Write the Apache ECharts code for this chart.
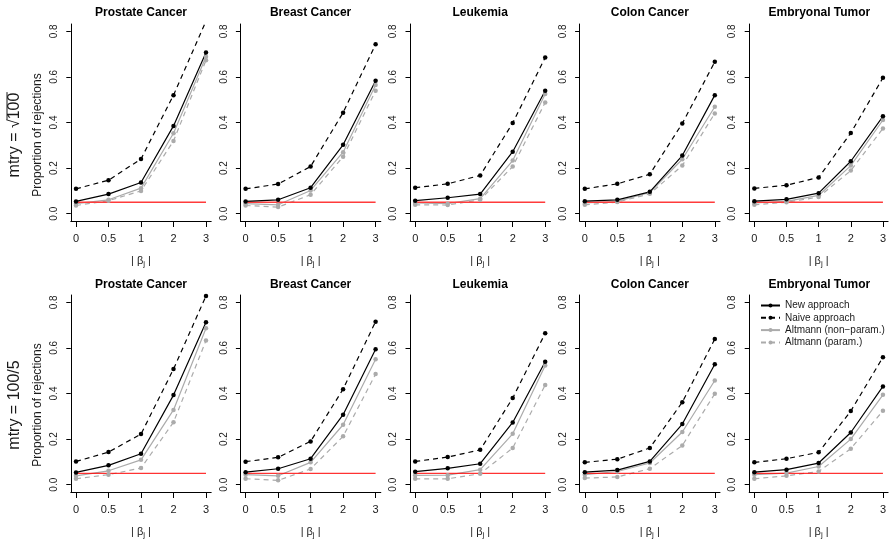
<!DOCTYPE html>
<html>
<head>
<meta charset="utf-8">
<script src="https://cdn.jsdelivr.net/npm/echarts@6/dist/echarts.min.js"></script>
<style>
  html, body { margin: 0; padding: 0; background: #ffffff; }
  #chart { width: 889px; height: 543px; }
</style>
</head>
<body>
<div id="chart"></div>
<script>
// ---- data -------------------------------------------------------------
const datasets = ['Prostate Cancer', 'Breast Cancer', 'Leukemia', 'Colon Cancer', 'Embryonal Tumor'];
const betaLabels = ['0', '0.5', '1', '2', '3'];
const yTicks = [0, 0.2, 0.4, 0.6, 0.8];
const yTickLabels = ['0.0', '0.2', '0.4', '0.6', '0.8'];
const nominalLevel = 0.05;
const methods = ['New approach', 'Naive approach', 'Altmann (non\u2212param.)', 'Altmann (param.)'];
const rowLabels = ['mtry = \u221A100', 'mtry = 100/5'];
const yTitle = 'Proportion of rejections';

// mtry = sqrt(100): one row per data set, values at |beta_j| = 0, 0.5, 1, 2, 3
const newSqrt = [
  [0.054, 0.086, 0.137, 0.385, 0.707],
  [0.054, 0.061, 0.114, 0.302, 0.583],
  [0.057, 0.070, 0.086, 0.272, 0.539],
  [0.055, 0.061, 0.096, 0.255, 0.520],
  [0.055, 0.063, 0.090, 0.230, 0.427]
];
const naiveSqrt = [
  [0.109, 0.147, 0.240, 0.520, 0.845],
  [0.109, 0.130, 0.207, 0.443, 0.743],
  [0.114, 0.131, 0.168, 0.398, 0.685],
  [0.109, 0.131, 0.173, 0.396, 0.666],
  [0.111, 0.125, 0.159, 0.354, 0.596]
];
const altNonParSqrt = [
  [0.044, 0.061, 0.112, 0.353, 0.688],
  [0.044, 0.039, 0.102, 0.270, 0.564],
  [0.047, 0.044, 0.066, 0.233, 0.525],
  [0.047, 0.054, 0.093, 0.239, 0.469],
  [0.047, 0.054, 0.080, 0.211, 0.411]
];
const altParSqrt = [
  [0.036, 0.057, 0.100, 0.319, 0.673],
  [0.036, 0.029, 0.083, 0.250, 0.539],
  [0.039, 0.038, 0.061, 0.207, 0.488],
  [0.039, 0.051, 0.087, 0.211, 0.440],
  [0.039, 0.050, 0.073, 0.189, 0.374]
];

// mtry = 100/5
const newFifth = [
  [0.054, 0.085, 0.136, 0.393, 0.712],
  [0.055, 0.070, 0.114, 0.307, 0.594],
  [0.057, 0.072, 0.092, 0.273, 0.539],
  [0.055, 0.064, 0.102, 0.266, 0.528],
  [0.055, 0.066, 0.095, 0.229, 0.431]
];
const naiveFifth = [
  [0.102, 0.143, 0.222, 0.507, 0.828],
  [0.101, 0.120, 0.190, 0.419, 0.715],
  [0.102, 0.121, 0.153, 0.380, 0.664],
  [0.098, 0.112, 0.161, 0.362, 0.639],
  [0.098, 0.114, 0.142, 0.323, 0.559]
];
const altNonParFifth = [
  [0.039, 0.061, 0.109, 0.328, 0.686],
  [0.044, 0.039, 0.098, 0.263, 0.550],
  [0.041, 0.042, 0.066, 0.223, 0.523],
  [0.044, 0.058, 0.095, 0.231, 0.457],
  [0.044, 0.051, 0.080, 0.200, 0.394]
];
const altParFifth = [
  [0.026, 0.044, 0.073, 0.274, 0.632],
  [0.026, 0.019, 0.069, 0.212, 0.485],
  [0.026, 0.026, 0.048, 0.161, 0.437],
  [0.029, 0.034, 0.070, 0.172, 0.399],
  [0.026, 0.039, 0.058, 0.158, 0.324]
];

// ---- layout -----------------------------------------------------------
const FONT = '"Liberation Sans", Arial, Helvetica, sans-serif';
const TEXT = '#1a1a1a';
const PANEL_LEFT = 70.8, PANEL_STEP = 169.6, PANEL_W = 140.4;
const ROW_TOP = 24, ROW_STEP = 271, PANEL_H = 197;
const Y_MIN = -0.032, Y_MAX = 0.832;   // [0, 0.8] padded by 4% on each side
const X_MIN = 0.84, X_MAX = 5.16;      // category slots 1..5 padded by 4%
const xSlots = betaLabels.map((_, i) => i + 1);

const rows = [
  [newSqrt, naiveSqrt, altNonParSqrt, altParSqrt],
  [newFifth, naiveFifth, altNonParFifth, altParFifth]
];

const methodStyle = [
  { color: '#000000', type: 'solid', width: 1.2 },
  { color: '#000000', type: [5, 4], width: 1.2 },
  { color: '#ababab', type: 'solid', width: 1.2 },
  { color: '#ababab', type: [5, 4], width: 1.2 }
];

const grids = [], xAxes = [], yAxes = [], series = [], titles = [], graphics = [];

rows.forEach((rowData, r) => {
  datasets.forEach((name, c) => {
    const k = grids.length;
    const left = PANEL_LEFT + PANEL_STEP * c;
    const top = ROW_TOP + ROW_STEP * r;
    grids.push({ left: left, top: top, width: PANEL_W, height: PANEL_H });

    xAxes.push({
      type: 'value', gridIndex: k, min: X_MIN, max: X_MAX,
      splitLine: { show: false },
      axisLine: { show: true, onZero: false, lineStyle: { color: '#000', width: 1 } },
      axisTick: { show: true, customValues: xSlots, length: 6, lineStyle: { color: '#000' } },
      axisLabel: {
        customValues: xSlots, margin: 12, fontSize: 11, fontFamily: FONT, color: TEXT,
        formatter: v => betaLabels[Math.round(v) - 1]
      },
      name: '{n|| \u03B2}{s|j}{n| |}',
      nameLocation: 'middle', nameGap: 32.5,
      nameTextStyle: {
        fontFamily: FONT, color: TEXT,
        rich: {
          n: { fontSize: 11, fontFamily: FONT, color: TEXT },
          s: { fontSize: 8, fontFamily: FONT, color: TEXT, padding: [6, 0, 0, 0] }
        }
      }
    });

    yAxes.push({
      type: 'value', gridIndex: k, min: Y_MIN, max: Y_MAX,
      splitLine: { show: false },
      axisLine: { show: true, onZero: false, lineStyle: { color: '#000', width: 1 } },
      axisTick: { show: true, customValues: yTicks, length: 4.5, lineStyle: { color: '#000' } },
      axisLabel: {
        customValues: yTicks, rotate: 90, margin: 11.5, fontSize: 10, fontFamily: FONT, color: TEXT,
        formatter: v => yTickLabels[yTicks.findIndex(t => Math.abs(t - v) < 1e-9)]
      }
    });

    // draw grey curves first so the black ones sit on top
    [3, 2, 1, 0].forEach(m => {
      const st = methodStyle[m];
      series.push({
        type: 'line', name: methods[m], xAxisIndex: k, yAxisIndex: k,
        data: rowData[m][c].map((v, i) => [xSlots[i], v]),
        symbol: 'circle', symbolSize: 4.5, clip: true,
        lineStyle: { color: st.color, type: st.type, width: st.width },
        itemStyle: { color: st.color },
        emphasis: { disabled: true }
      });
      if (m === 2) {
        // nominal 5% level
        series.push({
          type: 'line', name: 'nominal level', xAxisIndex: k, yAxisIndex: k,
          data: [[xSlots[0], nominalLevel], [xSlots[xSlots.length - 1], nominalLevel]],
          symbol: 'none', silent: true,
          lineStyle: { color: r === 0 ? '#ff3b3b' : '#ff0000', width: r === 0 ? 1.5 : 1 },
          emphasis: { disabled: true }
        });
      }
    });

    titles.push({
      text: name, left: left + PANEL_W / 2, top: top - 17 + (r === 0 ? 0 : 1),
      textAlign: 'center', padding: 0,
      textStyle: { fontFamily: FONT, fontSize: 12, fontWeight: 'bold', color: '#000' }
    });
  });
});

// row annotations on the left margin
const measure = (() => {
  const ctx = document.createElement('canvas').getContext('2d');
  return (txt, font) => { ctx.font = font; return ctx.measureText(txt).width; };
})();

const ROW_CENTERS = [135, 405];
ROW_CENTERS.forEach((cy, r) => {
  graphics.push({
    type: 'text', x: 38, y: cy, rotation: Math.PI / 2,
    style: { text: yTitle, font: '12px ' + FONT, fill: TEXT, align: 'center', verticalAlign: 'middle' }
  });

  const label = rowLabels[r];
  const font = '16px ' + FONT;
  const children = [{
    type: 'text', x: 0, y: 0,
    style: { text: label, font: font, fill: TEXT, align: 'center', verticalAlign: 'middle' }
  }];
  const root = label.indexOf('\u221A');
  if (root >= 0) {
    const W = measure(label, font);
    const x0 = -W / 2 + measure(label.slice(0, root + 1), font) - 0.5;
    children.push({
      type: 'line',
      shape: { x1: x0, y1: -7.5, x2: W / 2 + 0.5, y2: -7.5 },
      style: { stroke: TEXT, lineWidth: 1 }
    });
  }
  graphics.push({ type: 'group', x: 14.5, y: cy, rotation: Math.PI / 2, children: children });
});

const chart = echarts.init(document.getElementById('chart'), null, { renderer: 'canvas' });
chart.setOption({
  animation: false,
  backgroundColor: '#ffffff',
  title: titles,
  grid: grids,
  xAxis: xAxes,
  yAxis: yAxes,
  series: series,
  legend: {
    data: methods,
    orient: 'vertical',
    left: 760, top: 300.5,
    itemWidth: 19, itemHeight: 5, itemGap: 2.3,
    padding: 0,
    selectedMode: false,
    textStyle: { fontFamily: FONT, fontSize: 10, color: TEXT, lineHeight: 10 }
  },
  graphic: graphics
});
</script>
</body>
</html>
